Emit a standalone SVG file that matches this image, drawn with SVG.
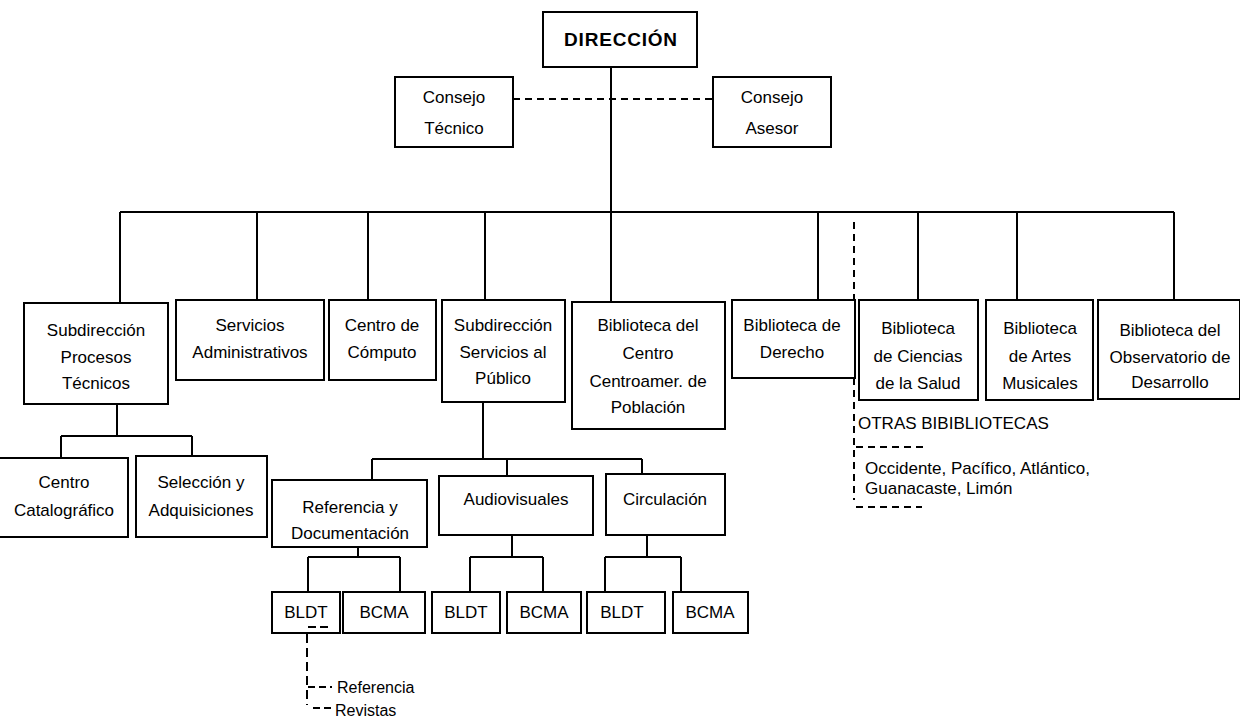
<svg xmlns="http://www.w3.org/2000/svg" width="1240" height="727" viewBox="0 0 1240 727">
<style>
.box{fill:#fff;stroke:#000;stroke-width:2}
.ln{fill:none;stroke:#000;stroke-width:2}
.dash{fill:none;stroke:#000;stroke-width:2;stroke-dasharray:7 5}
text{font-family:"Liberation Sans",Arial,sans-serif;font-size:17px;fill:#000;text-anchor:middle}
.title{font-size:19px;font-weight:bold;letter-spacing:0.8px}
.l{text-anchor:start}
.sm{font-size:16px}
</style>
<rect width="1240" height="727" fill="#fff"/>
<g id="connectors">
<path class="ln" d="M611,67 V302"/>
<path class="dash" d="M513,99 H713"/>
<path class="ln" d="M120,212 H1174"/>
<path class="ln" d="M120,212 V303 M257,212 V300 M368,212 V300 M485,212 V300 M818,212 V300 M918,212 V300 M1017,212 V300 M1174,212 V300"/>
<path class="ln" d="M117,404 V436 M61,436 H192 M61,436 V458 M192,436 V456"/>
<path class="ln" d="M483,402 V459 M372,459 H642 M372,459 V480 M507,459 V476 M642,459 V474"/>
<path class="ln" d="M358,547 V557 M308,557 H400 M308,557 V592 M400,557 V592"/>
<path class="ln" d="M512,535 V557 M470,557 H543 M470,557 V592 M543,557 V592"/>
<path class="ln" d="M647,535 V557 M605,557 H681 M605,557 V592 M681,557 V592"/>
<path class="dash" d="M854,222 V500"/>
<path class="dash" d="M856,447 H926 M856,507 H922"/>
<path class="dash" d="M307,634 V705" style="stroke-dasharray:9 5"/>
<path class="dash" d="M308,687 H332 M313,708 H333" style="stroke-dasharray:7 4"/>
</g>
<g id="direccion"><rect class="box" x="543" y="12" width="154" height="55"/><text class="title" x="621" y="46">DIRECCIÓN</text></g>
<g id="consejo-tecnico"><rect class="box" x="395" y="77" width="118" height="70"/><text x="454" y="103">Consejo</text><text x="454" y="134">Técnico</text></g>
<g id="consejo-asesor"><rect class="box" x="713" y="77" width="118" height="70"/><text x="772" y="103">Consejo</text><text x="772" y="134">Asesor</text></g>
<g id="subdir-procesos"><rect class="box" x="24" y="303" width="144" height="101"/><text x="96" y="336">Subdirección</text><text x="96" y="363">Procesos</text><text x="96" y="389">Técnicos</text></g>
<g id="servicios-admin"><rect class="box" x="176" y="300" width="148" height="80"/><text x="250" y="331">Servicios</text><text x="250" y="358">Administrativos</text></g>
<g id="centro-computo"><rect class="box" x="329" y="300" width="107" height="80"/><text x="382" y="331">Centro de</text><text x="382" y="358">Cómputo</text></g>
<g id="subdir-servicios"><rect class="box" x="442" y="300" width="123" height="102"/><text x="503" y="331">Subdirección</text><text x="503" y="358">Servicios al</text><text x="503" y="384">Público</text></g>
<g id="biblioteca-centro"><rect class="box" x="572" y="302" width="153" height="127"/><text x="648" y="331">Biblioteca del</text><text x="648" y="359">Centro</text><text x="648" y="387">Centroamer. de</text><text x="648" y="413">Población</text></g>
<g id="biblioteca-derecho"><rect class="box" x="732" y="300" width="123" height="78"/><text x="792" y="331">Biblioteca de</text><text x="792" y="358">Derecho</text></g>
<g id="biblioteca-salud"><rect class="box" x="859" y="300" width="119" height="100"/><text x="918" y="334">Biblioteca</text><text x="918" y="362">de Ciencias</text><text x="918" y="389">de la Salud</text></g>
<g id="biblioteca-artes"><rect class="box" x="986" y="300" width="107" height="100"/><text x="1040" y="334">Biblioteca</text><text x="1040" y="362">de Artes</text><text x="1040" y="389">Musicales</text></g>
<g id="biblioteca-observatorio"><rect class="box" x="1098" y="300" width="142" height="99"/><text x="1170" y="336">Biblioteca  del</text><text x="1170" y="363">Observatorio de</text><text x="1170" y="388">Desarrollo</text></g>
<g id="otras-bibliotecas"><text class="l" x="858" y="429">OTRAS BIBIBLIOTECAS</text><text class="l" x="865" y="474">Occidente, Pacífico, Atlántico,</text><text class="l" x="865" y="494">Guanacaste, Limón</text></g>
<g id="centro-catalografico"><rect class="box" x="-4" y="458" width="132" height="79"/><text x="64" y="488">Centro</text><text x="64" y="516">Catalográfico</text></g>
<g id="seleccion"><rect class="box" x="136" y="456" width="131" height="81"/><text x="201" y="488">Selección y</text><text x="201" y="516">Adquisiciones</text></g>
<g id="referencia-doc"><rect class="box" x="272" y="480" width="155" height="67"/><text x="350" y="513">Referencia y</text><text x="350" y="539">Documentación</text></g>
<g id="audiovisuales"><rect class="box" x="439" y="476" width="154" height="59"/><text x="516" y="505">Audiovisuales</text></g>
<g id="circulacion"><rect class="box" x="606" y="474" width="119" height="61"/><text x="665" y="505">Circulación</text></g>
<g id="bldt-1"><rect class="box" x="272" y="592" width="68" height="41"/><text x="306" y="618">BLDT</text><path class="dash" d="M308,627 H329" style="stroke-dasharray:8 4"/></g>
<g id="bcma-1"><rect class="box" x="343" y="592" width="82" height="41"/><text x="384" y="618">BCMA</text></g>
<g id="bldt-2"><rect class="box" x="432" y="592" width="68" height="41"/><text x="466" y="618">BLDT</text></g>
<g id="bcma-2"><rect class="box" x="507" y="592" width="74" height="41"/><text x="544" y="618">BCMA</text></g>
<g id="bldt-3"><rect class="box" x="587" y="592" width="78" height="41"/><text x="622" y="618">BLDT</text></g>
<g id="bcma-3"><rect class="box" x="673" y="592" width="75" height="41"/><text x="710" y="618">BCMA</text></g>
<g id="bldt-sub"><text class="l sm" x="337" y="693">Referencia</text><text class="l sm" x="335" y="716">Revistas</text></g>
</svg>
